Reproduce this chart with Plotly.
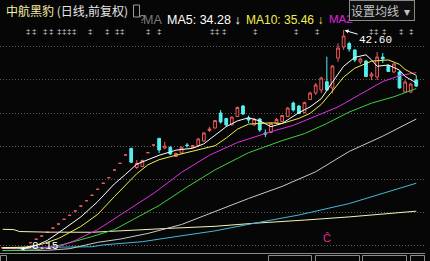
import plotly.graph_objects as go

# ---------------- data ----------------
opens = [8.30, 8.35, 8.22, 8.30, 8.25,
         9.14, 9.68, 10.19, 10.78, 11.45, 12.08, 12.82, 13.45, 14.13, 14.92, 15.75, 16.60, 17.54, 18.49, 19.37, 20.58, 21.63, 22.94,
         23.99, 20.97, 21.13, 23.30, 24.51, 25.56, 24.04, 24.12, 22.70, 23.25, 24.51, 24.12, 24.43, 25.14, 26.79, 27.18,
         29.54, 28.68, 27.66, 28.99, 30.65, 28.76, 27.66, 28.60, 26.40, 26.48, 27.97, 28.21, 28.99, 31.12, 30.65, 29.62,
         31.67, 32.69, 33.16, 34.47, 33.48, 38.19, 39.93, 40.48, 39.46, 37.57, 37.72, 35.36, 35.21, 38.35, 37.02, 36.00,
         36.00, 32.85, 32.85, 34.73]
highs = [8.40, 8.42, 8.35, 8.40, 8.38,
         9.14, 9.68, 10.19, 10.78, 11.45, 12.08, 12.82, 13.45, 14.13, 14.92, 15.75, 16.60, 17.54, 18.49, 19.37, 20.58, 21.63, 22.94,
         23.99, 22.15, 22.23, 23.30, 24.51, 25.56, 25.03, 24.35, 23.33, 24.27, 24.83, 24.51, 25.61, 26.56, 27.39, 28.44,
         30.02, 28.76, 28.96, 30.57, 30.80, 29.15, 28.76, 28.76, 26.95, 27.97, 28.76, 29.23, 30.49, 31.35, 30.80, 31.32,
         32.90, 34.27, 35.26, 38.40, 37.10, 40.51, 42.60, 40.76, 39.53, 38.27, 37.88, 36.00, 39.14, 38.98, 37.17, 37.41,
         36.15, 34.73, 34.27, 35.44]
lows = [8.25, 8.25, 8.18, 8.20, 8.15,
        9.14, 9.68, 10.19, 10.78, 11.45, 12.08, 12.82, 13.45, 14.13, 14.92, 15.75, 16.60, 17.54, 18.49, 19.37, 20.58, 21.63, 22.94,
        21.79, 20.74, 21.05, 23.30, 24.51, 23.25, 23.88, 22.94, 22.62, 23.17, 24.12, 24.04, 24.35, 24.98, 26.56, 27.11,
        27.89, 27.34, 27.58, 28.91, 29.23, 27.97, 27.58, 26.56, 25.77, 26.40, 27.81, 28.13, 28.91, 29.78, 29.39, 29.50,
        31.59, 32.38, 32.69, 33.08, 32.64, 37.61, 39.46, 39.19, 37.57, 37.25, 35.21, 34.73, 34.73, 37.41, 36.00, 35.84,
        33.40, 32.69, 32.69, 33.63]
closes = [8.35, 8.30, 8.30, 8.28, 8.31,
          9.14, 9.68, 10.19, 10.78, 11.45, 12.08, 12.82, 13.45, 14.13, 14.92, 15.75, 16.60, 17.54, 18.49, 19.37, 20.58, 21.63, 22.94,
          21.79, 21.60, 22.07, 23.30, 24.51, 23.72, 24.35, 23.10, 23.17, 24.15, 24.43, 24.43, 25.46, 26.40, 27.03, 28.36,
          28.13, 27.66, 28.91, 30.41, 29.39, 28.44, 28.60, 26.87, 26.24, 27.89, 28.52, 29.15, 30.33, 30.02, 29.47, 31.20,
          32.69, 33.95, 35.05, 33.16, 36.94, 39.77, 41.66, 39.61, 37.88, 38.04, 35.29, 35.68, 38.35, 38.04, 36.07, 37.25,
          33.48, 34.42, 34.11, 33.78]

ma5_x = [0, 4, 6, 8, 10, 12, 14, 17, 20, 22, 24, 26, 28, 31, 34, 36, 38, 40, 42, 44, 46, 48, 50, 53, 55, 57, 59, 61, 63, 65, 66, 67, 69, 71, 72, 74]
ma5_y = [8.30, 8.30, 8.70, 9.50, 10.70, 12.00, 13.20, 15.60, 18.40, 19.90, 21.50, 22.20, 22.90, 23.70, 24.00, 24.70, 26.00, 27.40, 28.30, 28.80, 28.30, 27.40, 27.90, 29.60, 30.50, 31.80, 34.40, 36.90, 38.30, 38.70, 37.90, 36.90, 37.10, 36.30, 35.30, 34.28]

ma10_x = [0, 4, 7, 10, 14, 17, 20, 22, 24, 26, 28, 31, 35, 38, 40, 42, 44, 48, 50, 53, 55, 57, 59, 61, 63, 66, 69, 71, 72, 74]
ma10_y = [8.35, 8.45, 8.90, 9.80, 11.70, 13.60, 16.40, 18.20, 20.00, 21.40, 22.20, 22.90, 23.80, 24.40, 25.60, 27.00, 27.80, 28.00, 27.90, 28.70, 29.50, 30.90, 33.00, 35.20, 36.60, 37.70, 37.90, 37.20, 36.40, 35.46]

ma20_x = [0, 6, 10, 13, 17, 22, 27, 32, 37, 42, 45, 48, 52, 56, 60, 64, 68, 71, 74]
ma20_y = [8.25, 8.30, 8.50, 9.50, 11.20, 14.00, 16.90, 20.20, 22.90, 24.90, 25.80, 26.60, 27.60, 29.10, 30.50, 32.50, 34.50, 35.40, 35.90]

ma30_x = [0, 6, 11, 16, 20, 23, 28, 33, 38, 44, 50, 54, 58, 62, 66, 70, 74]
ma30_y = [7.90, 8.00, 8.90, 10.10, 11.20, 12.60, 15.00, 17.90, 20.60, 23.30, 25.20, 26.30, 27.90, 29.70, 31.10, 32.10, 33.40]

ma60_x = [0, 8, 12, 17, 21, 26, 32, 38, 44, 50, 56, 62, 68, 74]
ma60_y = [7.90, 7.95, 8.20, 9.20, 9.70, 10.60, 12.00, 14.10, 16.10, 18.00, 20.30, 23.50, 25.90, 28.60]

ma120_x = [0, 16, 18, 25, 31, 38, 45, 53, 62, 69, 74]
ma120_y = [8.35, 8.50, 8.80, 9.30, 10.10, 11.00, 12.20, 13.50, 15.30, 17.20, 18.50]

ma250_x = [0, 2, 3, 8, 16, 24, 31, 38, 45, 54, 62, 74]
ma250_y = [11.25, 11.20, 10.90, 10.80, 10.78, 11.20, 11.45, 11.72, 12.20, 12.70, 13.20, 14.10]

grid_levels = [39.97, 34.74, 29.54, 24.24, 19.12, 13.93, 8.73]

high_mark = (61, 42.60, "42.60")
low_mark = (3, 8.15, "8.15")
event_day = 58

# ---------------- figure ----------------
BG = "#060606"
RED = "#f05a5a"
CYAN = "#54f0f0"
W, H = 430, 261
ML, MR, MT, MB = 0, 5, 28, 8
PW, PH = W - ML - MR, H - MT - MB


def pxx(X):
    return (X - ML) / PW


def pxy(Y):
    return (H - MB - Y) / PH


k = list(range(len(opens)))
up = [i for i in k if closes[i] >= opens[i]]
dn = [i for i in k if closes[i] < opens[i]]

fig = go.Figure()


def candle(idx, color, fill):
    return go.Candlestick(
        x=[k[i] for i in idx],
        open=[opens[i] for i in idx], high=[highs[i] for i in idx],
        low=[lows[i] for i in idx], close=[closes[i] for i in idx],
        increasing=dict(line=dict(color=color, width=1), fillcolor=fill),
        decreasing=dict(line=dict(color=color, width=1), fillcolor=fill),
        whiskerwidth=0, showlegend=False, hoverinfo="skip")


fig.add_trace(candle(up, RED, BG))
fig.add_trace(candle(dn, CYAN, CYAN))

lines = [
    (ma250_x, ma250_y, "#f4f4b8"),
    (ma120_x, ma120_y, "#45b8d8"),
    (ma60_x, ma60_y, "#c8c8c8"),
    (ma30_x, ma30_y, "#3fcf3f"),
    (ma20_x, ma20_y, "#e030e0"),
    (ma10_x, ma10_y, "#f0f050"),
    (ma5_x, ma5_y, "#ffffff"),
]
for xs, ys, c in lines:
    fig.add_trace(go.Scatter(x=xs, y=ys, mode="lines", line=dict(color=c, width=1),
                             showlegend=False, hoverinfo="skip"))

ann = []
# price extreme labels
ann.append(dict(x=high_mark[0], y=high_mark[1], text=high_mark[2], showarrow=True,
                ax=32, ay=9.5, arrowhead=2, arrowsize=0.8, arrowwidth=1, arrowcolor="#ffffff",
                standoff=1, font=dict(family="Liberation Mono", size=11, color="#ffffff")))
ann.append(dict(x=low_mark[0], y=low_mark[1], text=low_mark[2], showarrow=True,
                ax=26, ay=-3, arrowhead=2, arrowsize=0.8, arrowwidth=1, arrowcolor="#ffffff",
                standoff=1, font=dict(family="Liberation Mono", size=11, color="#ffffff")))
# event marker
ann.append(dict(x=event_day, xref="x", y=pxy(246), yref="paper", text="Ĉ", showarrow=False,
                font=dict(family="Liberation Sans", size=11, color="#e0308c")))

# header
hdr_font = "Noto Sans CJK SC"
ann.append(dict(x=pxx(4), y=pxy(11), xref="paper", yref="paper", xanchor="left", yanchor="middle",
                showarrow=False,
                text='<span style="color:#f6f0a8">中航黑豹</span> (日线,前复权)',
                font=dict(family=hdr_font, size=12, color="#e6e6e6")))
ann.append(dict(x=pxx(136.5), y=pxy(11), xref="paper", yref="paper", showarrow=False, text="?",
                font=dict(family="Liberation Sans", size=11, color="#909090")))
ann.append(dict(x=pxx(141), y=pxy(11), xref="paper", yref="paper", xanchor="left", showarrow=False,
                text="MA", font=dict(family="Liberation Sans", size=12.5, color="#7a7a7a")))
ann.append(dict(x=pxx(165), y=pxy(11), xref="paper", yref="paper", xanchor="left", showarrow=False,
                text="MA5: 34.28 ↓", font=dict(family="Liberation Sans", size=12.5, color="#ffffff")))
ann.append(dict(x=pxx(244), y=pxy(11), xref="paper", yref="paper", xanchor="left", showarrow=False,
                text="MA10: 35.46 ↓", font=dict(family="Liberation Sans", size=12, color="#f0f050")))
ann.append(dict(x=pxx(327), y=pxy(11), xref="paper", yref="paper", xanchor="left", showarrow=False,
                text="MA2", font=dict(family="Liberation Sans", size=11.5, color="#e020e0")))
# settings box (bordered annotation so it sits above the header)
ann.append(dict(x=pxx(349), y=pxy(10.5), xref="paper", yref="paper", xanchor="left", yanchor="middle",
                showarrow=False, text="设置均线  ▾ ", bgcolor="#0e0e0e", bordercolor="#8a8a8a",
                borderwidth=1, borderpad=1,
                font=dict(family=hdr_font, size=12, color="#c4c4c4")))
# info markers row
marker_px = [24, 30, 41, 47, 55, 60, 65, 70, 86, 103, 113, 118, 148, 159, 212, 217, 224, 255, 300, 321, 375, 380, 388, 405, 415]
for X in marker_px:
    ann.append(dict(x=pxx(X), y=pxy(24.5), xref="paper", yref="paper", showarrow=False, text="‡",
                    font=dict(family="Liberation Sans", size=8, color="#d4d4d4")))

shapes = []
# "?" box
shapes.append(dict(type="rect", xref="paper", yref="paper", x0=pxx(133.5), x1=pxx(139.5),
                   y0=pxy(17), y1=pxy(5), line=dict(color="#9a9a9a", width=1)))
# bottom tabs
for a, b in [(0, 7), (268, 312), (315, 360), (362, 407), (410, 425)]:
    shapes.append(dict(type="rect", xref="paper", yref="paper", x0=pxx(a + 0.5), x1=pxx(b - 0.5),
                       y0=pxy(262), y1=pxy(255.5), line=dict(color="#8a8a8a", width=1)))

fig.update_layout(
    width=W, height=H, margin=dict(l=ML, r=MR, t=MT, b=MB),
    paper_bgcolor=BG, plot_bgcolor=BG, showlegend=False,
    annotations=ann, shapes=shapes, hovermode=False,
    xaxis=dict(range=[-0.47, 75.56], showgrid=False, zeroline=False, showticklabels=False,
               rangeslider=dict(visible=False), showline=True, linecolor="#8a8a8a", linewidth=1,
               ticks=""),
    yaxis=dict(range=[7.52, 42.92], tickvals=grid_levels, showticklabels=False, ticks="",
               showgrid=True, gridcolor="#5a5a5a", gridwidth=1, griddash="1px,2px",
               zeroline=False, showline=False),
)

fig.write_html("out.html")
